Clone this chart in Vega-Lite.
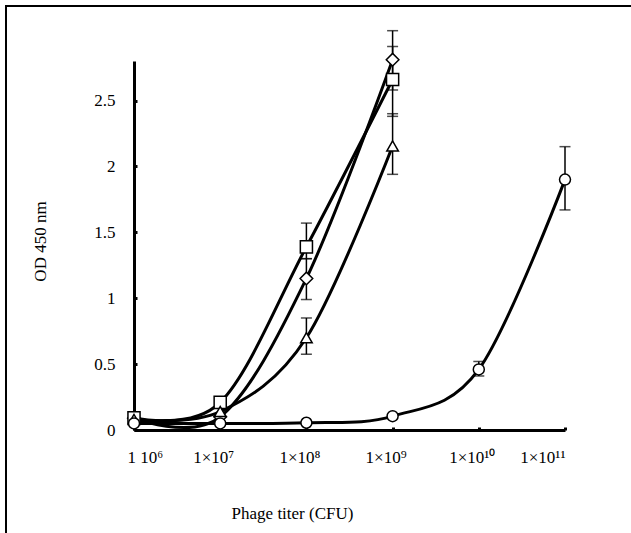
{
  "$schema": "https://vega.github.io/schema/vega-lite/v6.json",
  "width": 627,
  "height": 529,
  "autosize": {"type": "none"},
  "padding": {"left": 6, "top": 6, "right": -2, "bottom": -2},
  "background": "white",
  "config": {
    "view": {"stroke": "black", "strokeWidth": 2},
    "font": "Liberation Serif",
    "axis": {
      "labelFont": "Liberation Serif",
      "titleFont": "Liberation Serif",
      "labelFontSize": 17,
      "titleFontSize": 17,
      "labelColor": "black",
      "titleColor": "black",
      "titleFontWeight": "normal",
      "domainColor": "black",
      "domainWidth": 3,
      "tickColor": "black",
      "tickWidth": 3,
      "grid": false
    }
  },
  "datasets": {
    "pts": [
      {"series": "D", "titer": 1000000, "od": 0.09},
      {"series": "D", "titer": 10000000, "od": 0.1},
      {"series": "D", "titer": 100000000, "od": 1.15, "lo": 0.99, "hi": 1.30},
      {"series": "D", "titer": 1000000000, "od": 2.81, "lo": 2.58, "hi": 3.03},
      {"series": "S", "titer": 1000000, "od": 0.093},
      {"series": "S", "titer": 10000000, "od": 0.21},
      {"series": "S", "titer": 100000000, "od": 1.39, "lo": 1.30, "hi": 1.57},
      {"series": "S", "titer": 1000000000, "od": 2.66, "lo": 2.38, "hi": 2.91},
      {"series": "T", "titer": 1000000, "od": 0.08},
      {"series": "T", "titer": 10000000, "od": 0.14},
      {"series": "T", "titer": 100000000, "od": 0.70, "lo": 0.575, "hi": 0.85},
      {"series": "T", "titer": 1000000000, "od": 2.155, "lo": 1.94, "hi": 2.40},
      {"series": "C", "titer": 1000000, "od": 0.05},
      {"series": "C", "titer": 10000000, "od": 0.05},
      {"series": "C", "titer": 100000000, "od": 0.055},
      {"series": "C", "titer": 1000000000, "od": 0.105},
      {"series": "C", "titer": 10000000000, "od": 0.46, "lo": 0.41, "hi": 0.52},
      {"series": "C", "titer": 100000000000, "od": 1.9, "lo": 1.67, "hi": 2.15}
    ]
  },
  "data": {"name": "pts"},
  "encoding": {
    "x": {
      "field": "titer",
      "type": "quantitative",
      "scale": {"type": "log", "domain": [1000000, 100000000000], "range": [128, 559]},
      "axis": {
        "orient": "bottom",
        "offset": -105,
        "values": [1000000, 10000000, 100000000, 1000000000, 10000000000, 100000000000],
        "labelExpr": "datum.value < 2e6 ? '1 10⁶' : datum.value < 2e7 ? '1×10⁷' : datum.value < 2e8 ? '1×10⁸' : datum.value < 2e9 ? '1×10⁹' : datum.value < 2e10 ? '1×10¹⁰' : '1×10¹¹'",
        "labelOffset": {"condition": {"test": "datum.value > 5e10", "value": 0}, "value": -7},
        "tickSize": -3,
        "labelPadding": 30,
        "labelBaseline": "middle",
        "title": "Phage titer (CFU)",
        "titleX": 286,
        "titleY": 83,
        "titleAlign": "center",
        "titleBaseline": "middle",
        "titleAnchor": null
      }
    },
    "y": {
      "field": "od",
      "type": "quantitative",
      "scale": {"domain": [0, 2.8], "range": [424, 55], "zero": false, "nice": false},
      "axis": {
        "orient": "left",
        "offset": -128,
        "values": [0, 0.5, 1, 1.5, 2, 2.5],
        "format": "~g",
        "tickSize": -3,
        "labelPadding": 22,
        "title": "OD 450 nm",
        "titleX": -94,
        "titleY": 235,
        "titleAngle": -90,
        "titleAlign": "center",
        "titleBaseline": "middle",
        "titleAnchor": null
      }
    }
  },
  "layer": [
    {
      "mark": {"type": "line", "interpolate": "cardinal", "color": "black", "strokeWidth": 3},
      "encoding": {"detail": {"field": "series", "type": "nominal"}}
    },
    {
      "transform": [{"filter": "isValid(datum.lo)"}],
      "mark": {"type": "rule", "color": "black", "strokeWidth": 1.5},
      "encoding": {
        "y": {"field": "lo", "type": "quantitative"},
        "y2": {"field": "hi"}
      }
    },
    {
      "transform": [{"filter": "isValid(datum.lo)"}],
      "mark": {"type": "tick", "orient": "horizontal", "color": "black", "size": 11, "thickness": 1.5},
      "encoding": {"y": {"field": "lo", "type": "quantitative"}}
    },
    {
      "transform": [{"filter": "isValid(datum.hi)"}],
      "mark": {"type": "tick", "orient": "horizontal", "color": "black", "size": 11, "thickness": 1.5},
      "encoding": {"y": {"field": "hi", "type": "quantitative"}}
    },
    {
      "mark": {"type": "point", "filled": true, "fill": "white", "stroke": "black", "strokeWidth": 1.5, "opacity": 1},
      "encoding": {
        "shape": {
          "field": "series",
          "type": "nominal",
          "scale": {"domain": ["D", "S", "T", "C"], "range": ["diamond", "square", "triangle-up", "circle"]},
          "legend": null
        },
        "size": {
          "field": "series",
          "type": "nominal",
          "scale": {"domain": ["D", "S", "T", "C"], "range": [160, 121, 110, 125]},
          "legend": null
        }
      }
    }
  ]
}
